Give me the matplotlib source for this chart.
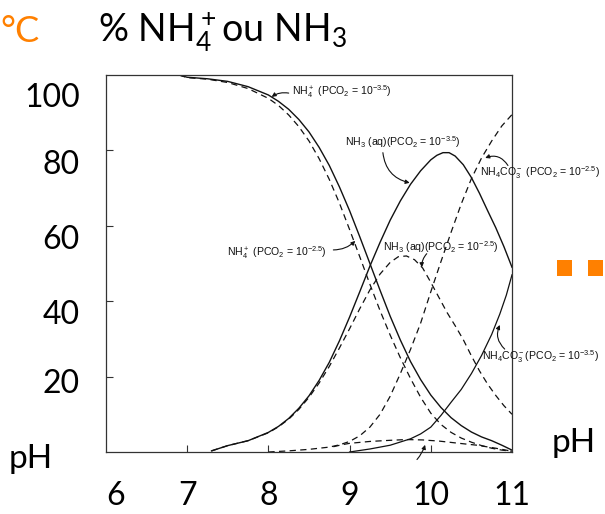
import matplotlib
matplotlib.use("Agg")
import matplotlib.pyplot as plt
from matplotlib.patches import Rectangle
from matplotlib.transforms import blended_transform_factory

plt.rcParams["mathtext.default"] = "regular"

# ---- data: % of total ammonia vs pH ----
# NH4+ at PCO2 = 10^-3.5 (solid)
nh4_lo_ph = [6.9, 7.0, 7.25, 7.5, 7.75, 8.0, 8.125, 8.25, 8.375, 8.5, 8.625, 8.75, 8.875,
             9.0, 9.125, 9.25, 9.375, 9.5, 9.625, 9.75, 9.875, 10.0, 10.125, 10.25,
             10.375, 10.5, 10.625, 10.75, 10.875, 11.0]
nh4_lo = [100, 99.4, 99.0, 98.3, 96.9, 94.7, 93.0, 90.9, 88.2, 84.9, 80.8, 76.0, 70.3,
          64.0, 57.1, 50.0, 42.9, 36.0, 29.7, 24.0, 19.2, 15.1, 11.8, 9.1,
          7.0, 5.3, 4.0, 3.0, 1.8, 0.5]

# NH4+ at PCO2 = 10^-2.5 (dashed)
nh4_hi_ph = nh4_lo_ph
nh4_hi = [100, 99.3, 98.9, 98.0, 96.4, 93.8, 91.9, 89.4, 86.3, 82.5, 77.8, 72.3, 66.0,
          59.0, 51.8, 44.5, 37.5, 31.0, 25.0, 19.5, 14.5, 10.3, 7.3, 5.2,
          3.7, 2.6, 1.7, 1.0, 0.5, 0.2]

# NH3(aq) at PCO2 = 10^-3.5 (solid)
nh3_lo_ph = [7.3, 7.5, 7.75, 8.0, 8.125, 8.25, 8.375, 8.5, 8.625, 8.75, 8.875, 9.0,
             9.125, 9.25, 9.375, 9.5, 9.625, 9.75, 9.875, 10.0, 10.075, 10.15, 10.225,
             10.3, 10.4, 10.5, 10.6, 10.7, 10.8, 10.9, 11.0]
nh3_lo = [0.3, 1.7, 3.0, 5.2, 6.8, 8.9, 11.6, 14.9, 19.0, 23.8, 29.5, 35.8,
          42.5, 49.3, 55.6, 61.5, 66.6, 71.0, 74.6, 77.5, 78.7, 79.4, 79.4,
          78.5, 76.2, 72.8, 68.6, 64.0, 59.5, 54.5, 49.0]

# NH3(aq) at PCO2 = 10^-2.5 (dashed)
nh3_hi_ph = [7.3, 7.5, 7.75, 8.0, 8.125, 8.25, 8.375, 8.5, 8.625, 8.75, 8.875, 9.0,
             9.125, 9.25, 9.375, 9.5, 9.6, 9.7, 9.8, 9.9, 10.0, 10.1, 10.2, 10.3,
             10.4, 10.5, 10.6, 10.7, 10.8, 10.9, 11.0]
nh3_hi = [0.3, 1.7, 3.0, 5.1, 6.7, 8.7, 11.3, 14.5, 18.3, 22.7, 27.6, 32.7,
          38.0, 43.0, 47.2, 50.3, 51.8, 52.0, 51.0, 48.8, 45.0, 41.0, 37.0, 33.5,
          29.8, 25.5, 21.5, 18.0, 15.0, 12.3, 10.0]

# NH4CO3- at PCO2 = 10^-3.5 (solid)
carb_lo_ph = [9.0, 9.25, 9.5, 9.75, 9.875, 10.0, 10.125, 10.25, 10.375, 10.5, 10.625,
              10.75, 10.85, 10.93, 11.0]
carb_lo = [0, 0.8, 1.8, 3.5, 4.8, 6.6, 9.7, 13.2, 16.6, 20.8, 25.6,
           31.2, 36.6, 41.6, 47.0]

# NH4CO3- at PCO2 = 10^-2.5 (dashed)
carb_hi_ph = [8.0, 8.25, 8.5, 8.75, 8.875, 9.0, 9.125, 9.25, 9.375, 9.5, 9.625, 9.75,
              9.875, 10.0, 10.125, 10.25, 10.375, 10.5, 10.625, 10.75, 10.875, 11.0]
carb_hi = [0, 0.3, 0.7, 1.3, 1.9, 2.8, 4.3, 6.6, 10.0, 14.8, 20.8, 27.2,
           34.2, 42.5, 50.5, 58.3, 65.8, 72.5, 78.0, 82.5, 86.5, 89.5]

# minor carbonate species at PCO2 = 10^-2.5 (dashed)
minor_ph = [8.8, 8.9, 9.0, 9.25, 9.5, 9.7, 9.9, 10.1, 10.35, 10.57, 10.8, 11.0]
minor = [1.4, 1.9, 2.3, 2.8, 3.1, 3.3, 3.2, 2.9, 2.3, 1.8, 1.0, 0.2]

# curve labels: text, anchor (pH, %), arrow tail, arrow head, bend
labels = [
    (r"NH$_4^+$ (PCO$_2$ = 10$^{-3.5}$)", (8.29, 95.6), (8.25, 95.2), (8.04, 94.2), 0.2),
    (r"NH$_3$ (aq)(PCO$_2$ = 10$^{-3.5}$)", (8.94, 82.2), (9.41, 79.4), (9.74, 71.4), 0.35),
    (r"NH$_4$CO$_3^-$ (PCO$_2$ = 10$^{-2.5}$)", (10.61, 74.0), (10.95, 76.0), (10.67, 78.0), 0.4),
    (r"NH$_4^+$ (PCO$_2$ = 10$^{-2.5}$)", (7.49, 53.0), (8.8, 53.6), (9.07, 56.0), 0.2),
    (r"NH$_3$ (aq)(PCO$_2$ = 10$^{-2.5}$)", (9.41, 54.4), (9.95, 52.6), (9.89, 49.0), 0.2),
    (r"NH$_4$CO$_3^-$(PCO$_2$ = 10$^{-3.5}$)", (10.63, 25.2), (10.91, 27.3), (10.85, 33.7), -0.35),
]

x_tick_vals = [7, 8, 9, 10]
y_tick_vals = [20, 40, 60, 80]
x_label_vals = ["6", "7", "8", "9", "10", "11"]
y_label_vals = ["100", "80", "60", "40", "20"]

# ---- figure ----
W, H = 605, 514
fig = plt.figure(figsize=(W / 100, H / 100), dpi=100)
fig.patch.set_facecolor("white")


def fx(px):
    return px / W


def fy(py):
    return 1 - py / H


ax = fig.add_axes([fx(106), fy(452), fx(512) - fx(106), (452 - 75) / H])
ink = "#111111"

ax.plot(nh4_lo_ph, nh4_lo, color=ink, lw=1.0)
ax.plot(nh3_lo_ph, nh3_lo, color=ink, lw=1.0)
ax.plot(carb_lo_ph, carb_lo, color=ink, lw=0.9)
dash = (5, 3.5)
ax.plot(nh4_hi_ph, nh4_hi, color=ink, lw=0.9, dashes=dash)
ax.plot(nh3_hi_ph, nh3_hi, color=ink, lw=0.9, dashes=dash)
ax.plot(carb_hi_ph, carb_hi, color=ink, lw=0.9, dashes=dash)
ax.plot(minor_ph, minor, color=ink, lw=0.9, dashes=dash)

ax.set_xlim(6, 11)
ax.set_ylim(0, 100)
ax.set_xticks(x_tick_vals)
ax.set_yticks(y_tick_vals)
ax.tick_params(direction="in", length=5, width=0.8, color="#333333",
               labelbottom=False, labelleft=False)
for s in ax.spines.values():
    s.set_linewidth(0.9)
    s.set_color("#333333")

lab_font = dict(family="Liberation Sans", fontsize=7.6, color=ink)
for txt, pos, tail, head, rad in labels:
    ax.text(pos[0], pos[1], txt, ha="left", va="center", **lab_font)
    ax.annotate("", xy=head, xytext=tail, annotation_clip=False,
                arrowprops=dict(arrowstyle="-|>", color=ink, lw=0.8,
                                mutation_scale=6, shrinkA=0, shrinkB=0,
                                connectionstyle=f"arc3,rad={rad}"))

# arrow to the minor species, label below the frame
ax.annotate("", xy=(9.93, 1.9), xytext=(9.83, -2.0), annotation_clip=False,
            arrowprops=dict(arrowstyle="-|>", color=ink, lw=0.8, mutation_scale=6,
                            shrinkA=0, shrinkB=0, connectionstyle="arc3,rad=0.1"))

# ---- slide text ----
big = dict(family="Lato", color="black")
orange = "#FF8000"
fig.text(fx(0), fy(42), "°C", fontsize=26, color=orange, family="Lato",
         ha="left", va="baseline")
fig.text(fx(98), fy(42), r"% NH$_4^+$ou NH$_3$", fontsize=27, ha="left",
         va="baseline", **big)

y_label_base = [107, 174, 249, 324, 393]
for t, b in zip(y_label_vals, y_label_base):
    fig.text(fx(80), fy(b), t, fontsize=23, ha="right", va="baseline", **big)

xt = blended_transform_factory(ax.transData, fig.transFigure)
for i, t in enumerate(x_label_vals):
    ax.text(float(t), fy(505), t, transform=xt, fontsize=23,
            ha="left" if i == 0 else "center", va="baseline", **big)

fig.text(fx(9), fy(468), "pH", fontsize=24, ha="left", va="baseline", **big)
fig.text(fx(552), fy(452), "pH", fontsize=24, ha="left", va="baseline", **big)

for x0 in (557, 588):
    fig.patches.append(Rectangle((fx(x0), fy(276)), 15 / W, 16 / H,
                                 transform=fig.transFigure, color=orange, lw=0))

fig.savefig("out.png", dpi=100)
